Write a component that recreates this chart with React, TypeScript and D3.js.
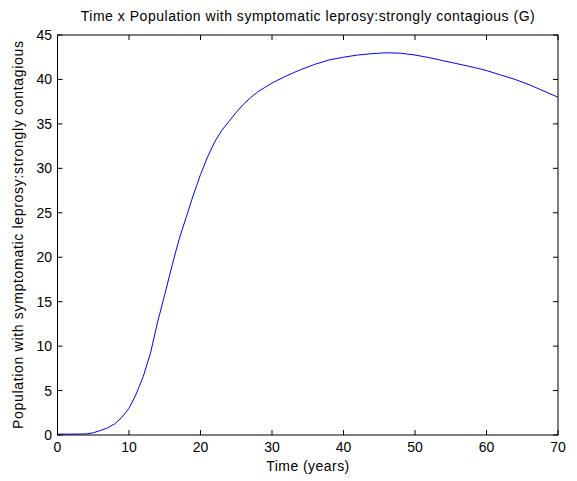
import React from "react";
import * as d3 from "d3";

const years = [0, 2, 4, 5, 6, 7, 8, 9, 10, 11, 12, 13, 14, 15, 16, 17, 18, 19, 20, 21, 22, 23, 24, 25, 26, 27, 28, 29, 30, 32, 34, 36, 38, 40, 42, 44, 46, 48, 50, 52, 54, 56, 58, 60, 62, 64, 66, 68, 70];
const population = [0.1, 0.1, 0.12, 0.25, 0.5, 0.8, 1.25, 2.0, 3.0, 4.6, 6.6, 9.2, 12.7, 15.8, 19.0, 22.0, 24.5, 27.0, 29.3, 31.3, 33.0, 34.3, 35.3, 36.3, 37.2, 37.95, 38.6, 39.1, 39.6, 40.4, 41.1, 41.7, 42.2, 42.5, 42.75, 42.9, 43.0, 42.95, 42.75, 42.45, 42.1, 41.75, 41.4, 41.0, 40.5, 40.0, 39.4, 38.7, 38.0];
const xTicks = [0, 10, 20, 30, 40, 50, 60, 70];
const yTicks = [0, 5, 10, 15, 20, 25, 30, 35, 40, 45];

const W = 577;
const H = 481;
const left = 57.5;
const right = 558;
const top = 35;
const bottom = 435;
const font = "'Liberation Sans', Arial, Helvetica, sans-serif";

export default function App() {
  const x = d3.scaleLinear().domain([0, 70]).range([left, right]);
  const y = d3.scaleLinear().domain([0, 45]).range([bottom, top]);
  const pts = years.map((t, i) => [t, population[i]] as [number, number]);
  const line = d3
    .line<[number, number]>()
    .x((d) => x(d[0]))
    .y((d) => y(d[1]));
  const tl = 5;
  const fs = 14;
  return (
    <svg
      width={W}
      height={H}
      style={{ position: "absolute", left: 0, top: 0, background: "#fff" }}
      fontFamily={font}
    >
      <rect x={0} y={0} width={W} height={H} fill="#fff" />
      <path d={line(pts) || ""} fill="none" stroke="#0000ff" strokeWidth={1} />
      <rect x={left} y={top} width={right - left} height={bottom - top} fill="none" stroke="#000" strokeWidth={1} />
      {xTicks.map((t) => (
        <g key={"x" + t}>
          <line x1={x(t)} x2={x(t)} y1={bottom} y2={bottom - tl} stroke="#000" />
          <line x1={x(t)} x2={x(t)} y1={top} y2={top + tl} stroke="#000" />
          <text x={x(t)} y={452} textAnchor="middle" fontSize={fs} fill="#000">
            {t}
          </text>
        </g>
      ))}
      {yTicks.map((v) => (
        <g key={"y" + v}>
          <line x1={left} x2={left + tl} y1={y(v)} y2={y(v)} stroke="#000" />
          <line x1={right} x2={right - tl} y1={y(v)} y2={y(v)} stroke="#000" />
          <text x={52} y={y(v)} dy="0.36em" textAnchor="end" fontSize={fs} fill="#000">
            {v}
          </text>
        </g>
      ))}
      <text
        x={(left + right) / 2}
        y={21}
        textAnchor="middle"
        fontSize={fs}
        fill="#000"
        textLength={454}
        lengthAdjust="spacing"
      >
        Time x Population with symptomatic leprosy:strongly contagious (G)
      </text>
      <text
        x={(left + right) / 2}
        y={471}
        textAnchor="middle"
        fontSize={fs}
        fill="#000"
        textLength={83}
        lengthAdjust="spacing"
      >
        Time (years)
      </text>
      <text
        transform={`translate(23, ${(top + bottom) / 2}) rotate(-90)`}
        textAnchor="middle"
        fontSize={fs}
        fill="#000"
        textLength={388}
        lengthAdjust="spacing"
      >
        Population with symptomatic leprosy:strongly contagious
      </text>
    </svg>
  );
}
